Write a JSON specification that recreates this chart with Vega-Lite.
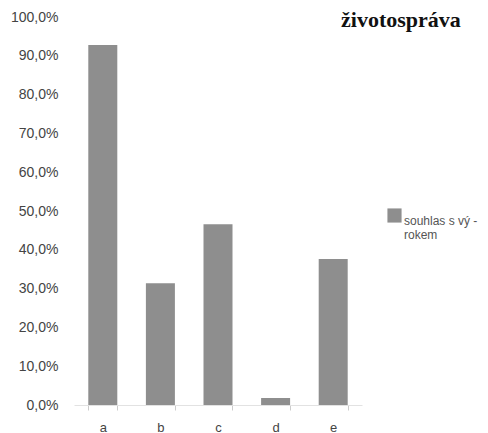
{
  "$schema": "https://vega.github.io/schema/vega-lite/v6.json",
  "autosize": "none",
  "width": 288,
  "height": 388,
  "padding": {"left": 74, "top": 17, "right": 126, "bottom": 28},
  "background": "white",
  "data": {"values": [
    {"kat": "a", "podil": 0.928, "serie": "souhlas s vý - rokem"},
    {"kat": "b", "podil": 0.314, "serie": "souhlas s vý - rokem"},
    {"kat": "c", "podil": 0.466, "serie": "souhlas s vý - rokem"},
    {"kat": "d", "podil": 0.018, "serie": "souhlas s vý - rokem"},
    {"kat": "e", "podil": 0.376, "serie": "souhlas s vý - rokem"}
  ]},
  "title": {
    "text": "životospráva",
    "font": "Liberation Serif",
    "fontSize": 22,
    "fontWeight": "bold",
    "color": "#111111",
    "anchor": "start",
    "frame": "group",
    "dx": 267,
    "dy": 22,
    "offset": 0
  },
  "mark": {"type": "bar", "width": 29},
  "encoding": {
    "x": {
      "field": "kat", "type": "nominal", "sort": null,
      "scale": {"paddingInner": 0.5, "paddingOuter": 0.25},
      "axis": {
        "title": null, "labelAngle": 0, "labelFont": "Liberation Sans", "labelFontSize": 13,
        "labelColor": "#444444", "domainColor": "#e2e2e2", "tickColor": "#cccccc",
        "tickBand": "extent", "tickSize": 5, "labelPadding": 11, "grid": false
      }
    },
    "y": {
      "field": "podil", "type": "quantitative",
      "scale": {"domain": [0, 1], "nice": false},
      "axis": {
        "title": null, "format": ".1%", "labelExpr": "replace(datum.label, '.', ',')",
        "values": [0, 0.1, 0.2, 0.3, 0.4, 0.5, 0.6, 0.7, 0.8, 0.9, 1.0],
        "labelFont": "Liberation Sans", "labelFontSize": 14, "labelColor": "#444444",
        "domain": false, "ticks": false, "labelPadding": 16, "grid": false
      }
    },
    "color": {
      "field": "serie", "type": "nominal",
      "scale": {"range": ["#8e8e8e"]},
      "legend": {
        "title": null, "orient": "none", "legendX": 313, "legendY": 191,
        "symbolType": "square", "symbolSize": 200, "symbolStrokeWidth": 0,
        "labelFont": "Liberation Sans", "labelFontSize": 12, "labelColor": "#555555",
        "labelExpr": "['souhlas s vý -', 'rokem']", "labelBaseline": "top", "labelOffset": 2
      }
    }
  },
  "config": {"view": {"stroke": null}}
}
